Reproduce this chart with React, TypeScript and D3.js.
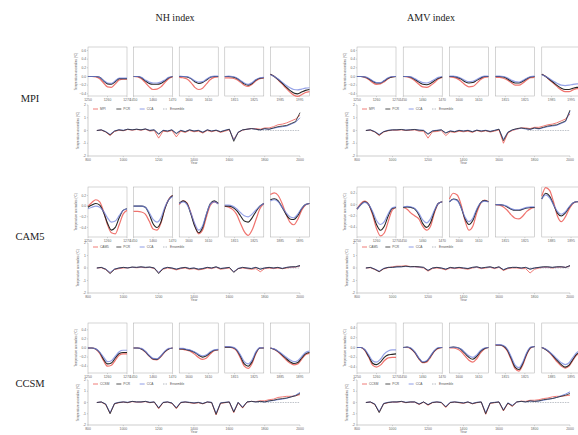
import React from 'react';
import * as d3 from 'd3';

const W = 578;
const H = 435;
const SERIF = '"Liberation Serif", "DejaVu Serif", serif';
const SANS = '"Liberation Sans", "DejaVu Sans", sans-serif';

const RED = '#ec5b55';
const BLACK = '#262626';
const BLUE = '#7183df';
const GREY = '#a3a9b2';

const models = ['MPI', 'CAM5', 'CCSM'];
const indexNames = ['NH index', 'AMV index'];
const methodLabels = ['PCR', 'CCA', 'Ensemble'];

// years since window start, for the small composite panels
const steps = [0, 2, 4, 6, 8, 10, 12, 14, 16, 18, 20];

const mpiWindows = [1250, 1450, 1595, 1810, 1980];
const cam5Windows = [1250, 1450, 1595, 1810, 1880];
const ccsmWindows = [1250, 1450, 1595, 1810, 1880];
const mpiWinTicks = [[1250, 1260, 1270], [1450, 1460, 1470], [1600, 1610], [1815, 1825], [1985, 1995]];
const cam5WinTicks = [[1250, 1260, 1270], [1450, 1460, 1470], [1600, 1610], [1815, 1825], [1885, 1895]];
const ccsmWinTicks = [[1250, 1260, 1270], [1450, 1460, 1470], [1600, 1610], [1815, 1825], [1885, 1895]];

// ---- small composite panels (red = model, black = PCR, blue = CCA)
const mpiNhRed = [
  [0, 0, -0.01, -0.05, -0.15, -0.24, -0.25, -0.17, -0.08, -0.06, -0.06],
  [0, -0.01, -0.05, -0.14, -0.24, -0.3, -0.29, -0.24, -0.14, -0.05, -0.01],
  [-0.02, -0.03, -0.06, -0.14, -0.25, -0.3, -0.27, -0.17, -0.07, -0.02, -0.01],
  [-0.03, -0.03, -0.04, -0.07, -0.13, -0.2, -0.23, -0.18, -0.1, -0.05, -0.04],
  [0.05, 0, -0.08, -0.17, -0.27, -0.36, -0.43, -0.46, -0.42, -0.37, -0.35],
];
const mpiNhBlack = [
  [0, 0, 0, -0.02, -0.1, -0.17, -0.18, -0.12, -0.05, -0.05, -0.05],
  [0, 0, -0.03, -0.1, -0.16, -0.18, -0.18, -0.16, -0.1, -0.03, 0],
  [0, 0, -0.01, -0.05, -0.12, -0.16, -0.14, -0.08, -0.02, 0, 0],
  [0, 0, -0.01, -0.04, -0.1, -0.17, -0.2, -0.16, -0.08, -0.04, -0.03],
  [0.05, 0, -0.07, -0.15, -0.24, -0.32, -0.38, -0.4, -0.36, -0.32, -0.3],
];
const mpiNhBlue = [
  [0, 0, 0, -0.02, -0.09, -0.15, -0.16, -0.1, -0.04, -0.04, -0.04],
  [0, 0, -0.02, -0.08, -0.13, -0.15, -0.15, -0.13, -0.08, -0.02, 0],
  [0.01, 0, 0, -0.04, -0.1, -0.13, -0.12, -0.06, -0.01, 0.01, 0.01],
  [0, 0.01, 0, -0.03, -0.09, -0.15, -0.18, -0.14, -0.07, -0.03, -0.02],
  [0.04, 0, -0.06, -0.13, -0.2, -0.26, -0.3, -0.31, -0.29, -0.27, -0.26],
];
const mpiAmvRed = [
  [0, 0, -0.02, -0.07, -0.14, -0.18, -0.17, -0.12, -0.05, -0.01, 0],
  [0, -0.01, -0.04, -0.1, -0.18, -0.24, -0.25, -0.21, -0.14, -0.06, -0.02],
  [-0.01, -0.02, -0.05, -0.11, -0.19, -0.24, -0.23, -0.16, -0.07, -0.02, -0.01],
  [-0.02, -0.02, -0.04, -0.08, -0.14, -0.2, -0.2, -0.15, -0.08, -0.03, -0.02],
  [0.05, 0, -0.08, -0.16, -0.24, -0.31, -0.35, -0.35, -0.31, -0.28, -0.28],
];
const mpiAmvBlack = [
  [0, 0, -0.01, -0.05, -0.11, -0.15, -0.15, -0.1, -0.04, -0.01, 0],
  [0, 0, -0.02, -0.07, -0.13, -0.18, -0.19, -0.16, -0.1, -0.04, -0.01],
  [0, 0, -0.02, -0.06, -0.12, -0.15, -0.14, -0.09, -0.04, 0, 0],
  [0, 0, -0.01, -0.05, -0.11, -0.15, -0.15, -0.11, -0.05, -0.01, 0],
  [0.05, 0, -0.07, -0.14, -0.21, -0.27, -0.3, -0.3, -0.27, -0.25, -0.25],
];
const mpiAmvBlue = [
  [0, 0, -0.01, -0.04, -0.1, -0.14, -0.14, -0.09, -0.03, 0, 0],
  [0, 0, -0.01, -0.05, -0.1, -0.14, -0.15, -0.12, -0.07, -0.02, 0],
  [0.01, 0.01, -0.01, -0.04, -0.09, -0.12, -0.11, -0.07, -0.02, 0.01, 0.01],
  [0.01, 0.01, 0, -0.03, -0.08, -0.12, -0.13, -0.09, -0.04, 0, 0.01],
  [0.04, 0, -0.05, -0.11, -0.16, -0.2, -0.21, -0.2, -0.18, -0.17, -0.17],
];
const cam5NhRed = [
  [0, 0.07, 0.12, 0.08, -0.1, -0.35, -0.5, -0.52, -0.35, -0.15, -0.08],
  [-0.1, -0.1, -0.11, -0.15, -0.28, -0.43, -0.45, -0.32, -0.05, 0.13, 0.2],
  [0.03, 0.1, 0.06, -0.13, -0.36, -0.52, -0.45, -0.2, 0.02, 0.08, 0.05],
  [0, -0.02, -0.06, -0.15, -0.32, -0.48, -0.55, -0.45, -0.25, -0.05, 0.05],
  [0.22, 0.25, 0.2, 0.05, -0.15, -0.3, -0.35, -0.25, -0.08, 0.02, 0.05],
];
const cam5NhBlack = [
  [-0.02, 0.02, 0.05, 0.02, -0.12, -0.32, -0.45, -0.4, -0.22, -0.08, -0.05],
  [0, 0, 0, -0.02, -0.15, -0.33, -0.4, -0.3, -0.05, 0.12, 0.2],
  [0.05, 0.1, 0.05, -0.15, -0.38, -0.5, -0.4, -0.15, 0.05, 0.1, 0.05],
  [0, 0, -0.02, -0.08, -0.18, -0.28, -0.3, -0.22, -0.1, 0, 0.05],
  [0.12, 0.14, 0.1, -0.02, -0.15, -0.24, -0.25, -0.18, -0.05, 0.03, 0.05],
];
const cam5NhBlue = [
  [-0.05, -0.02, 0, -0.02, -0.1, -0.22, -0.3, -0.28, -0.18, -0.08, -0.05],
  [0, 0, 0, -0.02, -0.12, -0.25, -0.3, -0.22, -0.02, 0.12, 0.18],
  [0.05, 0.08, 0.03, -0.13, -0.33, -0.45, -0.37, -0.14, 0.04, 0.08, 0.04],
  [0.02, 0.02, 0, -0.05, -0.12, -0.18, -0.2, -0.15, -0.07, 0, 0.05],
  [0.1, 0.12, 0.08, -0.02, -0.12, -0.2, -0.22, -0.15, -0.04, 0.03, 0.05],
];
const cam5AmvRed = [
  [-0.08, 0.02, 0.06, 0, -0.18, -0.42, -0.55, -0.5, -0.3, -0.1, -0.05],
  [-0.05, -0.08, -0.15, -0.2, -0.25, -0.38, -0.45, -0.38, -0.15, 0.02, 0.05],
  [0.1, 0.2, 0.17, 0, -0.28, -0.45, -0.38, -0.15, 0.02, 0.08, 0.05],
  [0, -0.01, -0.04, -0.1, -0.18, -0.24, -0.25, -0.2, -0.12, -0.07, -0.05],
  [0.15, 0.3, 0.25, 0.05, -0.2, -0.3, -0.22, -0.08, 0.02, 0.05, 0.05],
];
const cam5AmvBlack = [
  [-0.08, 0, 0.05, 0, -0.15, -0.35, -0.45, -0.38, -0.2, -0.07, -0.05],
  [-0.05, -0.04, -0.05, -0.08, -0.18, -0.33, -0.4, -0.32, -0.12, 0.02, 0.05],
  [0.05, 0.1, 0.08, -0.05, -0.25, -0.35, -0.28, -0.1, 0.03, 0.07, 0.05],
  [0, 0, -0.01, -0.04, -0.08, -0.1, -0.1, -0.08, -0.06, -0.05, -0.05],
  [0.1, 0.2, 0.15, 0, -0.15, -0.2, -0.15, -0.05, 0.03, 0.05, 0.05],
];
const cam5AmvBlue = [
  [-0.08, 0, 0.04, 0, -0.12, -0.28, -0.35, -0.3, -0.16, -0.06, -0.04],
  [-0.04, -0.03, -0.04, -0.07, -0.15, -0.27, -0.32, -0.25, -0.1, 0.02, 0.05],
  [0.05, 0.09, 0.07, -0.05, -0.22, -0.3, -0.24, -0.08, 0.03, 0.06, 0.05],
  [0, 0, -0.01, -0.03, -0.07, -0.09, -0.09, -0.07, -0.05, -0.04, -0.04],
  [0.1, 0.17, 0.12, 0, -0.12, -0.17, -0.13, -0.04, 0.03, 0.05, 0.05],
];
const ccsmNhRed = [
  [0, 0, -0.03, -0.12, -0.28, -0.4, -0.38, -0.27, -0.16, -0.13, -0.13],
  [0, 0, -0.02, -0.09, -0.18, -0.25, -0.26, -0.19, -0.09, -0.02, 0],
  [-0.02, -0.03, -0.05, -0.08, -0.14, -0.21, -0.25, -0.22, -0.13, -0.06, -0.04],
  [0.02, 0.02, 0, -0.06, -0.22, -0.4, -0.45, -0.34, -0.12, 0, 0],
  [0, -0.03, -0.09, -0.17, -0.26, -0.33, -0.37, -0.35, -0.25, -0.15, -0.12],
];
const ccsmNhBlack = [
  [0, 0, -0.02, -0.1, -0.25, -0.35, -0.33, -0.22, -0.12, -0.1, -0.1],
  [0, 0, -0.02, -0.08, -0.17, -0.24, -0.25, -0.18, -0.08, -0.02, 0],
  [-0.02, -0.02, -0.04, -0.06, -0.1, -0.16, -0.2, -0.17, -0.1, -0.05, -0.04],
  [0.02, 0.02, 0.01, -0.04, -0.18, -0.35, -0.4, -0.3, -0.1, 0, 0],
  [0, -0.03, -0.08, -0.15, -0.23, -0.3, -0.34, -0.32, -0.22, -0.13, -0.1],
];
const ccsmNhBlue = [
  [0, 0, -0.02, -0.09, -0.2, -0.3, -0.28, -0.18, -0.08, -0.05, -0.05],
  [0, 0, -0.01, -0.07, -0.16, -0.23, -0.24, -0.17, -0.07, -0.01, 0],
  [-0.01, -0.01, -0.03, -0.05, -0.09, -0.14, -0.17, -0.15, -0.08, -0.04, -0.03],
  [0.03, 0.03, 0.02, -0.03, -0.15, -0.3, -0.35, -0.26, -0.08, 0.01, 0],
  [0, -0.02, -0.07, -0.13, -0.2, -0.26, -0.3, -0.28, -0.19, -0.1, -0.07],
];
const ccsmAmvRed = [
  [0, 0, -0.06, -0.2, -0.36, -0.4, -0.36, -0.27, -0.21, -0.2, -0.2],
  [0, 0, -0.03, -0.11, -0.23, -0.31, -0.3, -0.2, -0.08, -0.02, 0],
  [-0.01, -0.01, -0.03, -0.08, -0.17, -0.26, -0.3, -0.23, -0.11, -0.03, 0],
  [0.05, 0.05, 0.02, -0.07, -0.25, -0.43, -0.48, -0.35, -0.14, -0.01, 0.02],
  [0, -0.04, -0.11, -0.2, -0.3, -0.38, -0.42, -0.38, -0.26, -0.15, -0.12],
];
const ccsmAmvBlack = [
  [0, 0, -0.05, -0.18, -0.32, -0.35, -0.3, -0.2, -0.15, -0.14, -0.13],
  [0, 0.01, -0.02, -0.1, -0.22, -0.3, -0.28, -0.18, -0.07, -0.01, 0],
  [0, 0.01, 0, -0.04, -0.12, -0.2, -0.24, -0.18, -0.08, -0.02, 0],
  [0.05, 0.05, 0.03, -0.05, -0.22, -0.4, -0.45, -0.32, -0.12, 0, 0.02],
  [0, -0.04, -0.1, -0.18, -0.27, -0.35, -0.4, -0.36, -0.24, -0.13, -0.1],
];
const ccsmAmvBlue = [
  [0, 0, -0.04, -0.15, -0.27, -0.3, -0.24, -0.13, -0.07, -0.05, -0.05],
  [0, 0.01, -0.01, -0.09, -0.21, -0.29, -0.27, -0.17, -0.06, 0, 0],
  [0, 0.01, 0, -0.03, -0.1, -0.17, -0.2, -0.15, -0.06, -0.01, 0],
  [0.06, 0.06, 0.04, -0.03, -0.19, -0.36, -0.41, -0.29, -0.1, 0.01, 0.02],
  [0, -0.03, -0.09, -0.16, -0.24, -0.31, -0.35, -0.31, -0.2, -0.1, -0.07],
];

// ---- full reconstructions, 850-2000
const years = [
  850, 875, 900, 925, 950, 975, 1000, 1025, 1050, 1075, 1100, 1125, 1150, 1175, 1200, 1225,
  1250, 1275, 1300, 1325, 1350, 1375, 1400, 1425, 1450, 1475, 1500, 1525, 1550, 1575, 1600,
  1625, 1650, 1675, 1700, 1725, 1750, 1775, 1800, 1825, 1850, 1875, 1900, 1925, 1950, 1975, 2000,
];
const refYears = [1760, 2000];
const refValues = [0, 0];

const mpiNhRedTs = [0, 0.03, -0.12, -0.4, -0.08, 0.02, -0.02, 0.08, 0.02, 0.08, 0.02, 0.1, -0.05, 0, -0.6, -0.05, -0.1, 0, -0.5, -0.05, -0.15, 0, -0.1, -0.05, -0.2, 0, -0.1, 0, -0.15, -0.05, 0.05, -0.7, -0.15, 0.02, 0.1, 0.15, 0.15, 0.1, 0.2, 0.2, 0.3, 0.45, 0.5, 0.6, 0.75, 0.9, 1.2];
const mpiNhBlackTs = [0, 0.05, -0.1, -0.35, -0.05, 0.05, 0, 0.1, 0.05, 0.1, 0.05, 0.12, 0, 0.05, -0.3, 0, -0.05, 0.05, -0.25, 0, -0.1, 0.05, -0.05, 0, -0.15, 0.05, -0.05, 0.02, -0.1, 0, 0.1, -0.85, -0.15, 0.05, 0.1, 0.15, 0.1, 0.05, 0.15, 0.1, 0.2, 0.3, 0.35, 0.4, 0.55, 0.7, 1.4];
const mpiNhBlueTs = [0, 0.05, -0.08, -0.3, -0.03, 0.06, 0.02, 0.1, 0.06, 0.1, 0.06, 0.12, 0.02, 0.05, -0.25, 0.02, -0.03, 0.05, -0.2, 0.02, -0.08, 0.05, -0.03, 0.02, -0.12, 0.05, -0.03, 0.03, -0.08, 0.02, 0.1, -0.75, -0.12, 0.05, 0.1, 0.15, 0.1, 0.05, 0.12, 0.1, 0.18, 0.25, 0.3, 0.35, 0.5, 0.65, 1.0];
const mpiAmvRedTs = [0, 0.02, -0.12, -0.4, -0.12, -0.02, 0.02, 0.02, 0.05, 0, 0.02, 0.05, -0.05, -0.05, -0.6, -0.1, -0.08, 0, -0.4, -0.1, -0.15, -0.05, -0.1, -0.05, -0.15, 0, -0.1, -0.02, -0.12, -0.05, 0.05, -1.0, -0.2, 0, 0.1, 0.2, 0.2, 0.15, 0.25, 0.25, 0.35, 0.45, 0.5, 0.6, 0.75, 0.9, 1.3];
const mpiAmvBlackTs = [0, 0.05, -0.1, -0.35, -0.1, 0, 0.05, 0.05, 0.08, 0.02, 0.05, 0.08, 0.02, 0, -0.3, -0.05, 0, 0.05, -0.2, -0.05, -0.1, 0, -0.05, 0, -0.1, 0.02, -0.05, 0, -0.08, 0, 0.1, -0.8, -0.15, 0.05, 0.15, 0.2, 0.15, 0.1, 0.2, 0.15, 0.25, 0.35, 0.4, 0.45, 0.6, 0.75, 1.6];
const mpiAmvBlueTs = [0, 0.05, -0.08, -0.3, -0.08, 0.02, 0.05, 0.06, 0.08, 0.04, 0.06, 0.08, 0.04, 0.02, -0.25, -0.02, 0.02, 0.05, -0.18, -0.02, -0.08, 0.02, -0.03, 0.02, -0.08, 0.03, -0.03, 0.02, -0.06, 0.02, 0.1, -0.7, -0.12, 0.05, 0.12, 0.18, 0.12, 0.08, 0.18, 0.12, 0.22, 0.3, 0.35, 0.4, 0.55, 0.7, 1.5];
const cam5NhRedTs = [0, 0.02, -0.12, -0.4, -0.12, -0.05, 0, 0.02, 0.05, 0.02, 0.05, 0.02, 0.05, -0.05, -0.35, -0.1, 0, -0.05, -0.15, -0.05, 0, -0.1, -0.05, -0.15, -0.1, 0, -0.05, 0.05, -0.1, -0.05, 0, -0.3, -0.05, 0, -0.05, -0.1, -0.05, -0.3, -0.05, 0, -0.05, 0, -0.05, 0, 0.05, 0.08, 0.15];
const cam5NhBlackTs = [0, 0.05, -0.1, -0.45, -0.1, 0, 0.05, 0, 0.08, 0.05, 0.1, 0.05, 0.08, 0, -0.45, -0.05, 0.05, 0, -0.1, 0, 0.05, -0.05, 0, -0.1, -0.05, 0.05, 0, 0.1, -0.05, 0, 0.05, -0.35, -0.05, 0.05, 0, -0.05, 0.05, -0.1, 0, 0.05, 0, 0.05, -0.05, 0.05, 0.1, 0.1, 0.2];
const cam5NhBlueTs = [0, 0.05, -0.08, -0.35, -0.08, 0, 0.05, 0.02, 0.06, 0.05, 0.08, 0.05, 0.06, 0, -0.35, -0.03, 0.05, 0, -0.08, 0, 0.05, -0.03, 0, -0.08, -0.03, 0.05, 0, 0.08, -0.03, 0, 0.05, -0.3, -0.03, 0.05, 0, -0.03, 0.05, -0.08, 0, 0.05, 0, 0.05, -0.03, 0.05, 0.08, 0.1, 0.18];
const cam5AmvRedTs = [0, 0.02, -0.12, -0.28, -0.08, 0.02, 0.1, 0.15, 0.15, 0.18, 0.12, 0.1, 0.05, 0, -0.25, -0.05, 0, -0.05, -0.15, 0, -0.05, 0, -0.05, -0.1, 0, 0.05, -0.05, 0, 0.05, -0.05, 0.05, -0.2, -0.05, 0, 0, -0.05, -0.05, -0.4, -0.1, 0, 0.05, 0.05, 0, 0.05, 0.08, 0.05, 0.15];
const cam5AmvBlackTs = [0, 0.05, -0.1, -0.3, -0.05, 0.05, 0.05, 0.1, 0.1, 0.15, 0.1, 0.12, 0.1, 0.05, -0.2, 0, 0.05, 0, -0.1, 0.05, 0, 0.05, 0, -0.05, 0.05, 0.1, 0, 0.05, 0.1, 0, 0.1, -0.15, 0, 0.05, 0.05, 0, 0.05, -0.1, 0, 0.05, 0.1, 0.1, 0.05, 0.1, 0.1, 0.05, 0.2];
const cam5AmvBlueTs = [0, 0.05, -0.08, -0.25, -0.03, 0.05, 0.05, 0.08, 0.1, 0.12, 0.1, 0.1, 0.08, 0.05, -0.18, 0, 0.05, 0, -0.08, 0.03, 0, 0.05, 0, -0.03, 0.05, 0.08, 0, 0.05, 0.08, 0, 0.08, -0.12, 0, 0.05, 0.05, 0, 0.05, -0.08, 0, 0.05, 0.08, 0.08, 0.05, 0.08, 0.1, 0.05, 0.18];
const ccsmNhRedTs = [0, 0.03, -0.18, -0.95, -0.12, -0.02, 0.03, -0.02, 0.08, 0.03, 0.03, 0.08, -0.02, 0.03, -0.55, -0.02, 0.03, -0.08, -0.55, -0.02, 0.03, -0.02, -0.08, -0.02, -0.12, 0.03, -0.02, -1.1, -0.08, -0.02, 0.03, -0.9, -0.02, -0.5, 0.03, 0.1, 0.08, 0.15, 0.15, 0.25, 0.3, 0.45, 0.5, 0.55, 0.55, 0.6, 0.7];
const ccsmNhBlackTs = [0, 0.05, -0.15, -1.0, -0.1, 0, 0.05, 0, 0.1, 0.05, 0.05, 0.1, 0, 0.05, -0.5, 0, 0.05, -0.05, -0.5, 0, 0.05, 0, -0.05, 0, -0.1, 0.05, 0, -1.05, -0.05, 0, 0.05, -0.85, 0, -0.45, 0.05, 0.1, 0.05, 0.1, 0.05, 0.15, 0.2, 0.3, 0.35, 0.4, 0.5, 0.6, 0.8];
const ccsmNhBlueTs = [0, 0.05, -0.12, -0.9, -0.08, 0.02, 0.05, 0.02, 0.1, 0.05, 0.05, 0.1, 0.02, 0.05, -0.45, 0.02, 0.05, -0.03, -0.45, 0.02, 0.05, 0.02, -0.03, 0.02, -0.08, 0.05, 0.02, -0.95, -0.03, 0.02, 0.05, -0.8, 0.02, -0.4, 0.05, 0.1, 0.05, 0.1, 0.05, 0.12, 0.18, 0.25, 0.3, 0.38, 0.5, 0.65, 0.9];
const ccsmAmvRedTs = [0, 0.03, -0.18, -0.85, -0.12, -0.02, 0.03, 0.03, 0.08, -0.02, 0.03, 0.03, -0.18, 0.03, -0.25, -0.02, 0.03, -0.02, -0.45, -0.02, 0.03, -0.02, -0.08, 0.03, -0.12, -0.02, 0.03, -1.05, -0.08, -0.02, 0.03, -0.75, -0.08, -0.35, 0.05, 0.12, 0.1, 0.2, 0.2, 0.25, 0.35, 0.4, 0.5, 0.55, 0.55, 0.6, 0.65];
const ccsmAmvBlackTs = [0, 0.05, -0.15, -0.9, -0.1, 0, 0.05, 0.05, 0.1, 0, 0.05, 0.05, -0.15, 0.05, -0.2, 0, 0.05, 0, -0.4, 0, 0.05, 0, -0.05, 0.05, -0.1, 0, 0.05, -1.0, -0.05, 0, 0.05, -0.7, -0.05, -0.3, 0.05, 0.1, 0.05, 0.15, 0.1, 0.15, 0.25, 0.3, 0.35, 0.45, 0.55, 0.65, 0.8];
const ccsmAmvBlueTs = [0, 0.05, -0.12, -0.8, -0.08, 0.02, 0.05, 0.05, 0.1, 0.02, 0.05, 0.05, -0.12, 0.05, -0.18, 0.02, 0.05, 0.02, -0.35, 0.02, 0.05, 0.02, -0.03, 0.05, -0.08, 0.02, 0.05, -0.9, -0.03, 0.02, 0.05, -0.65, -0.03, -0.25, 0.05, 0.1, 0.05, 0.12, 0.1, 0.12, 0.2, 0.28, 0.35, 0.45, 0.6, 0.75, 0.95];

const tsTicks = [800, 1000, 1200, 1400, 1600, 1800, 2000];
const tsYTicks = [2, 1, 0, -1, -2];

// layout
const cols = [
  { smallX: [88, 133.6, 179.2, 224.8, 270.4], mainX: [88, 300], titleX: 175 },
  { smallX: [357, 403.2, 449.4, 495.6, 541.8], mainX: [357, 570], titleX: 431 },
];
const rows = [
  { small: [47, 96], main: [105, 156], labelY: 102 },
  { small: [187, 237], main: [243, 293], labelY: 240 },
  { small: [323, 373], main: [380, 425], labelY: 387 },
];
const BOX_W = 39;

type Small = { red: number[][]; black: number[][]; blue: number[][]; dom: [number, number]; ticks: number[] };
type Ts = { red: number[]; black: number[]; blue: number[] };

const smallTable: Small[][] = [
  [
    { red: mpiNhRed, black: mpiNhBlack, blue: mpiNhBlue, dom: [-0.45, 0.68], ticks: [0.6, 0.4, 0.2, 0, -0.2, -0.4] },
    { red: mpiAmvRed, black: mpiAmvBlack, blue: mpiAmvBlue, dom: [-0.45, 0.68], ticks: [0.6, 0.4, 0.2, 0, -0.2, -0.4] },
  ],
  [
    { red: cam5NhRed, black: cam5NhBlack, blue: cam5NhBlue, dom: [-0.58, 0.36], ticks: [0.2, 0, -0.2, -0.4] },
    { red: cam5AmvRed, black: cam5AmvBlack, blue: cam5AmvBlue, dom: [-0.57, 0.31], ticks: [0.2, 0, -0.2, -0.4] },
  ],
  [
    { red: ccsmNhRed, black: ccsmNhBlack, blue: ccsmNhBlue, dom: [-0.55, 0.55], ticks: [0.4, 0.2, 0, -0.2, -0.4] },
    { red: ccsmAmvRed, black: ccsmAmvBlack, blue: ccsmAmvBlue, dom: [-0.52, 0.5], ticks: [0.4, 0.2, 0, -0.2, -0.4] },
  ],
];
const tsTable: Ts[][] = [
  [
    { red: mpiNhRedTs, black: mpiNhBlackTs, blue: mpiNhBlueTs },
    { red: mpiAmvRedTs, black: mpiAmvBlackTs, blue: mpiAmvBlueTs },
  ],
  [
    { red: cam5NhRedTs, black: cam5NhBlackTs, blue: cam5NhBlueTs },
    { red: cam5AmvRedTs, black: cam5AmvBlackTs, blue: cam5AmvBlueTs },
  ],
  [
    { red: ccsmNhRedTs, black: ccsmNhBlackTs, blue: ccsmNhBlueTs },
    { red: ccsmAmvRedTs, black: ccsmAmvBlackTs, blue: ccsmAmvBlueTs },
  ],
];
const windowTable = [mpiWindows, cam5Windows, ccsmWindows];
const winTickTable = [mpiWinTicks, cam5WinTicks, ccsmWinTicks];

const fmt = (v: number) => (v === 0 ? '0.0' : d3.format('.1f')(v));

function SmallPanel(props: {
  x: number; y0: number; y1: number; start: number; xt: number[];
  red: number[]; black: number[]; blue: number[];
  dom: [number, number]; yt: number[]; showY: boolean;
}) {
  const { x, y0, y1, start, xt, red, black, blue, dom, yt, showY } = props;
  const xs = d3.scaleLinear().domain([start, start + 20]).range([x, x + BOX_W]);
  const ys = d3.scaleLinear().domain(dom).range([y1, y0]);
  const line = d3.line<number>()
    .x((_, i) => xs(start + steps[i]))
    .y((d) => ys(d))
    .curve(d3.curveMonotoneX);
  return (
    <g>
      <rect x={x} y={y0} width={BOX_W} height={y1 - y0} fill="none" stroke="#aaa" strokeWidth={0.5} />
      {xt.map((t) => (
        <g key={t}>
          <line x1={xs(t)} x2={xs(t)} y1={y1} y2={y1 + 1.2} stroke="#999" strokeWidth={0.4} />
          <text x={xs(t)} y={y1 + 4.6} fontSize={3.4} fontFamily={SANS} fill="#666" textAnchor="middle">{t}</text>
        </g>
      ))}
      {showY && yt.map((t) => (
        <g key={t}>
          <line x1={x - 1.2} x2={x} y1={ys(t)} y2={ys(t)} stroke="#999" strokeWidth={0.4} />
          <text x={x - 2} y={ys(t) + 1.1} fontSize={3.3} fontFamily={SANS} fill="#666" textAnchor="end">{fmt(t)}</text>
        </g>
      ))}
      {showY && (
        <text transform={`translate(${x - 11},${(y0 + y1) / 2}) rotate(-90)`} fontSize={3} fontFamily={SANS} fill="#666" textAnchor="middle">
          Temperature anomalies (°C)
        </text>
      )}
      <path d={line(red) || ''} fill="none" stroke={RED} strokeWidth={1.2} strokeOpacity={0.85} />
      <path d={line(black) || ''} fill="none" stroke={BLACK} strokeWidth={1.1} />
      <path d={line(blue) || ''} fill="none" stroke={BLUE} strokeWidth={1.2} strokeOpacity={0.75} />
    </g>
  );
}

function MainPanel(props: { x0: number; x1: number; y0: number; y1: number; model: string; ts: Ts }) {
  const { x0, x1, y0, y1, model, ts } = props;
  const xs = d3.scaleLinear().domain([800, 2000]).range([x0, x1]);
  const ys = d3.scaleLinear().domain([-2, 2]).range([y1, y0]);
  const line = d3.line<number>().x((_, i) => xs(years[i])).y((d) => ys(d));
  const refLine = d3.line<number>().x((_, i) => xs(refYears[i])).y((d) => ys(d));
  const legend = [
    { label: model, color: RED, dash: '' },
    { label: methodLabels[0], color: BLACK, dash: '' },
    { label: methodLabels[1], color: BLUE, dash: '' },
    { label: methodLabels[2], color: GREY, dash: '1.5,1' },
  ];
  const legX = d3.scalePoint<number>().domain([0, 1, 2, 3]).range([x0 + 5, x0 + 75]);
  return (
    <g>
      <line x1={x0} x2={x0} y1={y0} y2={y1} stroke="#999" strokeWidth={0.5} />
      <line x1={x0} x2={x1} y1={y1} y2={y1} stroke="#999" strokeWidth={0.5} />
      {tsYTicks.map((t) => (
        <g key={t}>
          <line x1={x0 - 1.2} x2={x0} y1={ys(t)} y2={ys(t)} stroke="#999" strokeWidth={0.4} />
          <text x={x0 - 2} y={ys(t) + 1.1} fontSize={3.4} fontFamily={SANS} fill="#666" textAnchor="end">{t}</text>
        </g>
      ))}
      {tsTicks.map((t) => (
        <g key={t}>
          <line x1={xs(t)} x2={xs(t)} y1={y1} y2={y1 + 1.2} stroke="#999" strokeWidth={0.4} />
          <text x={xs(t)} y={y1 + 4.6} fontSize={3.4} fontFamily={SANS} fill="#666" textAnchor="middle">{t}</text>
        </g>
      ))}
      <text x={(x0 + x1) / 2} y={y1 + 8.4} fontSize={3.4} fontFamily={SANS} fill="#666" textAnchor="middle">Year</text>
      <text transform={`translate(${x0 - 9},${(y0 + y1) / 2}) rotate(-90)`} fontSize={3} fontFamily={SANS} fill="#666" textAnchor="middle">
        Temperature anomalies (°C)
      </text>
      <path d={refLine(refValues) || ''} fill="none" stroke={GREY} strokeWidth={0.7} strokeDasharray="1.5,1" />
      <path d={line(ts.red) || ''} fill="none" stroke={RED} strokeWidth={0.9} strokeOpacity={0.9} />
      <path d={line(ts.blue) || ''} fill="none" stroke={BLUE} strokeWidth={0.9} />
      <path d={line(ts.black) || ''} fill="none" stroke={BLACK} strokeWidth={0.8} />
      {legend.map((l, i) => (
        <g key={l.label}>
          <line x1={legX(i)!} x2={legX(i)! + 5} y1={y0 + 4} y2={y0 + 4} stroke={l.color} strokeWidth={0.8} strokeDasharray={l.dash} />
          <text x={legX(i)! + 7} y={y0 + 5.1} fontSize={3.2} fontFamily={SANS} fill="#555">{l.label}</text>
        </g>
      ))}
    </g>
  );
}

export default function App() {
  return (
    <svg width={W} height={H} style={{ position: 'absolute', left: 0, top: 0, background: '#fff' }}>
      {indexNames.map((n, c) => (
        <text key={n} x={cols[c].titleX} y={21} fontSize={10} fontFamily={SERIF} fill="#222" textAnchor="middle">{n}</text>
      ))}
      {models.map((m, r) => (
        <g key={m}>
          <text x={30} y={rows[r].labelY} fontSize={10.5} fontFamily={SERIF} fill="#222" textAnchor="middle">{m}</text>
          {cols.map((col, c) => (
            <g key={c}>
              {col.smallX.map((sx, k) => (
                <SmallPanel
                  key={k}
                  x={sx}
                  y0={rows[r].small[0]}
                  y1={rows[r].small[1]}
                  start={windowTable[r][k]}
                  xt={winTickTable[r][k]}
                  red={smallTable[r][c].red[k]}
                  black={smallTable[r][c].black[k]}
                  blue={smallTable[r][c].blue[k]}
                  dom={smallTable[r][c].dom}
                  yt={smallTable[r][c].ticks}
                  showY={k === 0}
                />
              ))}
              <MainPanel
                x0={col.mainX[0]}
                x1={col.mainX[1]}
                y0={rows[r].main[0]}
                y1={rows[r].main[1]}
                model={m}
                ts={tsTable[r][c]}
              />
            </g>
          ))}
        </g>
      ))}
    </svg>
  );
}
